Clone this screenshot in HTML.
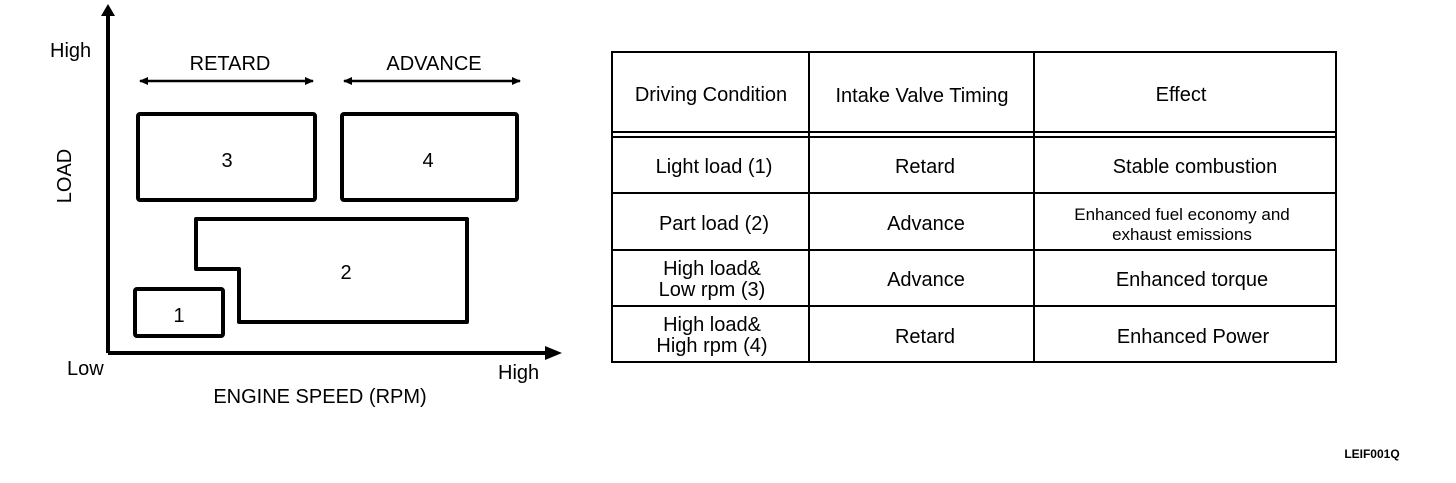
<!DOCTYPE html>
<html><head><style>
body{margin:0;background:#fff;}
svg text{font-family:"Liberation Sans",sans-serif;fill:#000;}
</style></head><body>
<svg width="1456" height="478" viewBox="0 0 1456 478" xmlns="http://www.w3.org/2000/svg">
<defs>
<marker id="a" markerWidth="10" markerHeight="10" refX="8" refY="5" orient="auto-start-reverse" markerUnits="userSpaceOnUse"><path d="M0,1 L9,5 L0,9 Z" fill="#000"/></marker>
</defs>
<g stroke="#000" fill="none">
<path d="M108,353 V14" stroke-width="4"/>
<path d="M101,16 L108,4 L115,16 Z" fill="#000" stroke="none"/>
<path d="M108,353 H550" stroke-width="4"/>
<path d="M545,346 L562,353 L545,360 Z" fill="#000" stroke="none"/>
<path d="M140,81 H313" stroke-width="2.5" marker-start="url(#a)" marker-end="url(#a)"/>
<path d="M344,81 H520" stroke-width="2.5" marker-start="url(#a)" marker-end="url(#a)"/>
<rect x="138" y="114" width="177" height="86" stroke-width="4" rx="2"/>
<rect x="342" y="114" width="175" height="86" stroke-width="4" rx="2"/>
<path d="M196,219 H467 V322 H239 V269 H196 Z" stroke-width="4" stroke-linejoin="round"/>
<rect x="135" y="289" width="88" height="47" stroke-width="4" rx="2"/>
</g>
<g font-size="20">
<text x="50" y="57">High</text>
<text x="230" y="70" text-anchor="middle">RETARD</text>
<text x="434" y="70" text-anchor="middle">ADVANCE</text>
<text x="64" y="176" text-anchor="middle" transform="rotate(-90 64 176)" dy="7">LOAD</text>
<text x="227" y="167" text-anchor="middle">3</text>
<text x="428" y="167" text-anchor="middle">4</text>
<text x="346" y="279" text-anchor="middle">2</text>
<text x="179" y="322" text-anchor="middle">1</text>
<text x="67" y="375">Low</text>
<text x="498" y="379">High</text>
<text x="320" y="403" text-anchor="middle">ENGINE SPEED (RPM)</text>
</g>
<g stroke="#000" fill="none" stroke-width="2">
<rect x="612" y="52" width="724" height="310"/>
<line x1="612" y1="132" x2="1336" y2="132"/>
<line x1="612" y1="137" x2="1336" y2="137"/>
<line x1="612" y1="193" x2="1336" y2="193"/>
<line x1="612" y1="250" x2="1336" y2="250"/>
<line x1="612" y1="306" x2="1336" y2="306"/>
<line x1="809" y1="52" x2="809" y2="362"/>
<line x1="1034" y1="52" x2="1034" y2="362"/>
</g>
<g font-size="20" text-anchor="middle">
<text x="711" y="101">Driving Condition</text>
<text x="922" y="102">Intake Valve Timing</text>
<text x="1181" y="101">Effect</text>
<text x="714" y="173">Light load (1)</text>
<text x="925" y="173">Retard</text>
<text x="1195" y="173">Stable combustion</text>
<text x="714" y="230">Part load (2)</text>
<text x="926" y="230">Advance</text>
<text x="1182" y="220" font-size="17">Enhanced fuel economy and</text>
<text x="1182" y="240" font-size="17">exhaust emissions</text>
<text x="712" y="275">High load&amp;</text>
<text x="712" y="296">Low rpm (3)</text>
<text x="926" y="286">Advance</text>
<text x="1192" y="286">Enhanced torque</text>
<text x="712" y="331">High load&amp;</text>
<text x="712" y="352">High rpm (4)</text>
<text x="925" y="343">Retard</text>
<text x="1193" y="343">Enhanced Power</text>
</g>
<text x="1372" y="458" font-size="12" font-weight="bold" text-anchor="middle">LEIF001Q</text>
</svg>
</body></html>
